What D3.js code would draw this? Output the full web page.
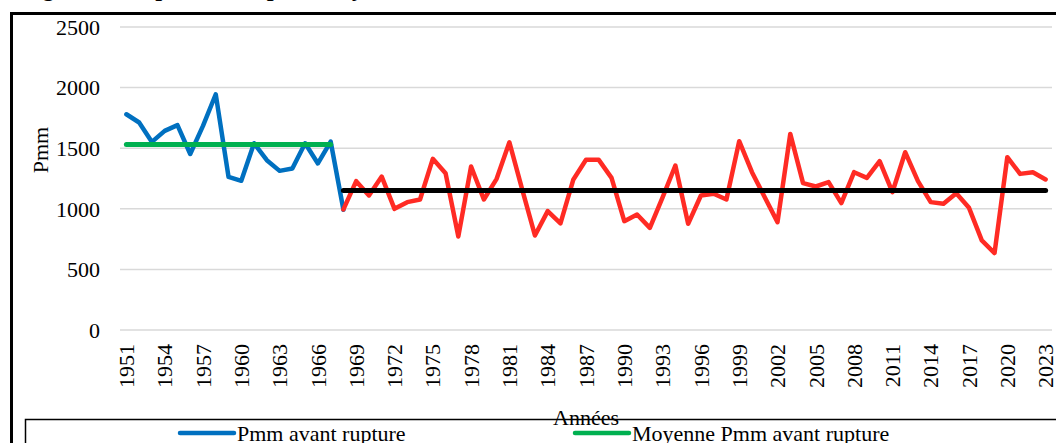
<!DOCTYPE html>
<html><head><meta charset="utf-8">
<script src="https://cdn.jsdelivr.net/npm/d3@7"></script>
<style>
html,body{margin:0;padding:0;background:#fff;overflow:hidden;}
svg{display:block;font-family:"Liberation Serif","Times New Roman",serif;}
</style></head>
<body>
<svg id="chart" width="1056" height="443"></svg>
<script>
const years = d3.range(1951, 2024);
const yTicks = [0, 500, 1000, 1500, 2000, 2500];
const xTickYears = d3.range(1951, 2024, 3);

// Pmm avant rupture (1951-1968)
const beforeYears = d3.range(1951, 1969);
const beforeValues = [1780, 1712, 1552, 1643, 1690, 1452, 1684, 1945, 1264, 1231,
                      1541, 1401, 1313, 1332, 1541, 1374, 1555, 992];
// Pmm après rupture (1968-2023)
const afterYears = d3.range(1968, 2024);
const afterValues = [995, 1228, 1110, 1266, 1000, 1055, 1077, 1412, 1294, 772,
                     1349, 1077, 1247, 1549, 1160, 780, 981, 880, 1239, 1404,
                     1404, 1255, 898, 953, 843, 1095, 1357, 876, 1110, 1124,
                     1077, 1558, 1302, 1096, 890, 1618, 1212, 1184, 1220, 1047,
                     1302, 1255, 1393, 1137, 1467, 1228, 1055, 1041, 1129, 1008,
                     739, 635, 1426, 1288, 1302, 1242];
// Moyennes
const meanBeforeYears = [1951, 1967];
const meanBefore = 1530;
const meanAfterYears = [1968, 2023];
const meanAfter = 1151;

const seriesLabels = ["Pmm avant rupture", "Moyenne Pmm avant rupture"];
const titleText = "Figure 4 : Rupture de la pluie moyenne annuelle";

const svg = d3.select("#chart");
const x = d3.scalePoint().domain(years).range([120, 1052]).padding(0.5);
const y = d3.scaleLinear().domain([0, 2500]).range([330, 27]);

// title (cut off at top)
svg.append("text").attr("x", 22).attr("y", -4)
  .attr("font-size", 24).attr("font-weight", "bold").attr("font-style", "italic")
  .text(titleText);

// outer frame
svg.append("rect").attr("x", 11.5).attr("y", 13.5).attr("width", 1100).attr("height", 500)
  .attr("fill", "none").attr("stroke", "#000").attr("stroke-width", 3);

// gridlines
svg.append("g").selectAll("line").data(yTicks).join("line")
  .attr("x1", 120).attr("x2", 1052)
  .attr("y1", d => y(d)).attr("y2", d => y(d))
  .attr("stroke", "#d9d9d9").attr("stroke-width", 1.5);

// y tick labels
svg.append("g").selectAll("text").data(yTicks).join("text")
  .attr("x", 100).attr("y", d => y(d)).attr("dy", "0.35em")
  .attr("text-anchor", "end").attr("font-size", 22).text(d => d);

// x tick labels
svg.append("g").selectAll("text").data(xTickYears).join("text")
  .attr("transform", d => `translate(${x(d)},344) rotate(-90)`)
  .attr("dy", "0.35em").attr("text-anchor", "end").attr("font-size", 22).text(d => d);

// axis titles
svg.append("text").attr("transform", "translate(40,150) rotate(-90)")
  .attr("text-anchor", "middle").attr("dy", "0.35em").attr("font-size", 22).text("Pmm");

const line = d3.line().x(d => x(d[0])).y(d => y(d[1]));

svg.append("path").datum(d3.zip(beforeYears, beforeValues)).attr("d", line)
  .attr("fill", "none").attr("stroke", "#0070c0").attr("stroke-width", 4.5)
  .attr("stroke-linejoin", "round").attr("stroke-linecap", "round");
svg.append("path").datum(meanBeforeYears.map(v => [v, meanBefore])).attr("d", line)
  .attr("fill", "none").attr("stroke", "#00b050").attr("stroke-width", 5)
  .attr("stroke-linecap", "round");
svg.append("path").datum(d3.zip(afterYears, afterValues)).attr("d", line)
  .attr("fill", "none").attr("stroke", "#ff2b24").attr("stroke-width", 4.5)
  .attr("stroke-linejoin", "round").attr("stroke-linecap", "round");
svg.append("path").datum(meanAfterYears.map(v => [v, meanAfter])).attr("d", line)
  .attr("fill", "none").attr("stroke", "#000").attr("stroke-width", 5)
  .attr("stroke-linecap", "round");

svg.append("text").attr("x", 586).attr("y", 425).attr("text-anchor", "middle")
  .attr("font-size", 22).text("Années");

// legend box
svg.append("rect").attr("x", 25.5).attr("y", 419.5).attr("width", 1100).attr("height", 100)
  .attr("fill", "none").attr("stroke", "#000").attr("stroke-width", 1.5);

const legendItems = [
  {label: seriesLabels[0], color: "#0070c0", x: 180},
  {label: seriesLabels[1], color: "#00b050", x: 575}
];
const lg = svg.append("g").selectAll("g").data(legendItems).join("g");
lg.append("line").attr("x1", d => d.x).attr("x2", d => d.x + 54)
  .attr("y1", 433).attr("y2", 433).attr("stroke", d => d.color)
  .attr("stroke-width", 4.5).attr("stroke-linecap", "round");
lg.append("text").attr("x", d => d.x + 57).attr("y", 441)
  .attr("font-size", 22).text(d => d.label);
</script>
</body></html>
